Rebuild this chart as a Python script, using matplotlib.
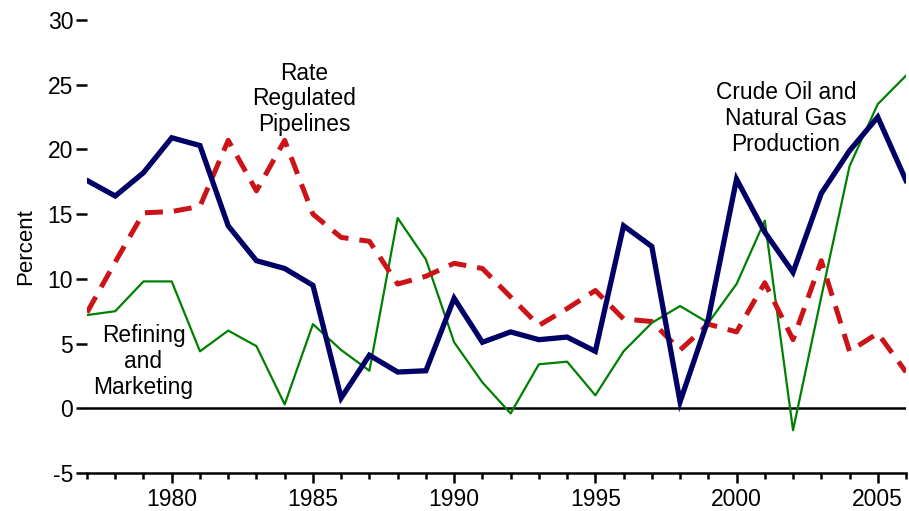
import matplotlib.pyplot as plt
import numpy as np

plt.rcParams['font.family'] = ['Liberation Sans', 'DejaVu Sans']
plt.rcParams['axes.unicode_minus'] = False

years = np.arange(1977, 2007)

# Crude Oil and Natural Gas Production
crude = [17.6, 16.4, 18.2, 20.9, 20.3, 14.1, 11.4, 10.8, 9.5, 0.8,
         4.1, 2.8, 2.9, 8.5, 5.1, 5.9, 5.3, 5.5, 4.4, 14.1,
         12.5, 0.5, 6.9, 17.7, 13.6, 10.5, 16.6, 19.9, 22.5, 17.6]

# Rate Regulated Pipelines
pipelines = [7.4, 11.3, 15.1, 15.2, 15.6, 20.7, 16.8, 20.7, 15.0, 13.2,
             12.9, 9.6, 10.2, 11.2, 10.8, 8.6, 6.4, 7.7, 9.1, 6.9,
             6.7, 4.5, 6.5, 5.9, 9.7, 5.3, 11.4, 4.4, 5.8, 2.8]

# Refining and Marketing
refining = [7.2, 7.5, 9.8, 9.8, 4.4, 6.0, 4.8, 0.3, 6.5, 4.5,
            2.9, 14.7, 11.5, 5.1, 2.0, -0.4, 3.4, 3.6, 1.0, 4.4,
            6.6, 7.9, 6.6, 9.6, 14.5, -1.7, 8.6, 18.7, 23.5, 25.7]

yticks = [-5, 0, 5, 10, 15, 20, 25, 30]
xticks = [1980, 1985, 1990, 1995, 2000, 2005]

fig = plt.figure(figsize=(9.09, 5.11), dpi=100)
ax = fig.add_axes([0.0957, 0.0744, 0.901, 0.8865])

ax.axhline(0, color='black', lw=1.8, zorder=1)
ax.plot(years, refining, color='#008000', lw=1.6, zorder=2)
ax.plot(years, pipelines, color='#CC1418', lw=3.6, linestyle=(0, (3.6, 2.2)),
        dash_capstyle='butt', zorder=3)
ax.plot(years, crude, color='#000066', lw=3.8, solid_joinstyle='miter', zorder=4)

ax.set_xlim(1977, 2006)
ax.set_ylim(-5, 30)
ax.set_yticks(yticks)
ax.set_xticks(xticks)
ax.set_xticks(years, minor=True)

for s in ['left', 'right', 'top']:
    ax.spines[s].set_visible(False)
ax.spines['bottom'].set_linewidth(1.8)

ax.tick_params(axis='y', length=8, width=1.8, labelsize=16.5, pad=2)
ax.tick_params(axis='x', which='major', length=7, width=1.8, labelsize=16.5, pad=4)
ax.tick_params(axis='x', which='minor', length=4.5, width=1.8)

ax.set_ylabel('Percent', fontsize=16, labelpad=8)

ax.text(1984.7, 23.9, 'Rate\nRegulated\nPipelines', ha='center', va='center',
        fontsize=16.4, linespacing=1.15)
ax.text(2001.75, 22.4, 'Crude Oil and\nNatural Gas\nProduction', ha='center', va='center',
        fontsize=16.4, linespacing=1.15)
ax.text(1979.0, 3.6, 'Refining\nand\nMarketing', ha='center', va='center',
        fontsize=16.4, linespacing=1.15)

fig.savefig('out.png', dpi=100)
